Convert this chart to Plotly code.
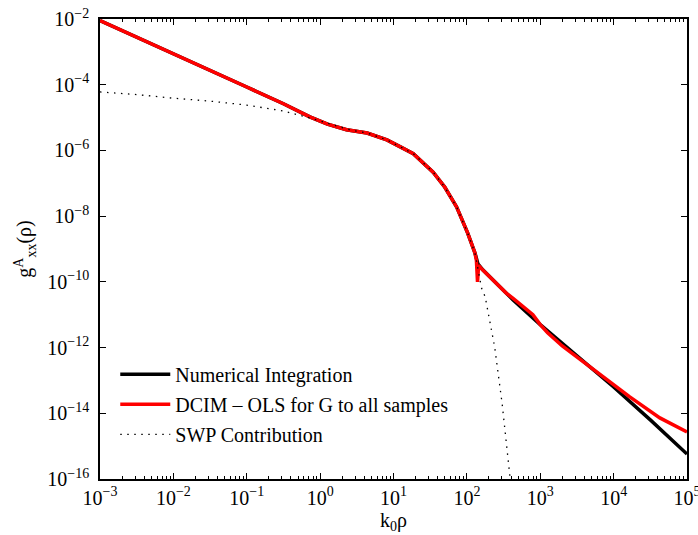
import numpy as np
import plotly.graph_objects as go

# ---- data (log10 readings) ----
num_logx = [-3.0, -2.5, -2.0, -1.5, -1.0, -0.5, -0.14, 0.1, 0.36, 0.64, 0.91, 1.1, 1.27,
            1.54, 1.7, 1.86, 2.01, 2.11, 2.15, 2.22, 2.35, 2.45, 2.54, 2.63, 3.0, 3.5,
            3.77, 4.0, 4.5, 5.0]
num_logy = [-2.05, -2.55, -3.05, -3.57, -4.07, -4.58, -4.98, -5.2, -5.37, -5.47, -5.68,
            -5.9, -6.1, -6.66, -7.12, -7.72, -8.51, -9.12, -9.45, -9.64, -9.94, -10.16,
            -10.35, -10.55, -11.3, -12.25, -12.74, -13.2, -14.2, -15.24]

dcim_logx = [-3.0, -2.5, -2.0, -1.5, -1.0, -0.5, -0.14, 0.1, 0.36, 0.64, 0.91, 1.1, 1.27,
             1.54, 1.7, 1.86, 2.01, 2.11, 2.13, 2.145, 2.15, 2.16, 2.2, 2.35, 2.45, 2.54,
             2.63, 2.72, 2.8, 2.9, 3.0, 3.1, 3.3, 3.5, 3.77, 4.0, 4.22, 4.63, 5.0]
dcim_logy = [-2.05, -2.55, -3.05, -3.57, -4.07, -4.58, -4.98, -5.2, -5.37, -5.47, -5.68,
             -5.9, -6.1, -6.66, -7.12, -7.72, -8.51, -9.12, -9.35, -10.0, -9.9, -9.5,
             -9.6, -9.94, -10.16, -10.35, -10.5, -10.66, -10.8, -11.0, -11.3, -11.55, -11.95,
             -12.28, -12.74, -13.12, -13.5, -14.14, -14.57]

swp_logx = [-3.0, -2.5, -2.0, -1.5, -1.0, -0.5, -0.14, 0.2, 0.41, 0.64, 0.91, 1.1, 1.27,
            1.54, 1.7, 1.86, 2.01, 2.11, 2.15, 2.2, 2.25, 2.27, 2.38, 2.48, 2.56, 2.6]
swp_logy = [-4.22, -4.3, -4.41, -4.5, -4.62, -4.8, -5.01, -5.25, -5.38, -5.47, -5.68,
            -5.9, -6.1, -6.66, -7.12, -7.72, -8.51, -9.12, -9.6, -10.19, -10.46, -10.7,
            -12.0, -13.7, -15.3, -16.2]

x_tick_exp = [-3, -2, -1, 0, 1, 2, 3, 4, 5]
y_tick_exp = [-16, -14, -12, -10, -8, -6, -4, -2]

series_names = ["Numerical Integration", "DCIM \u2013 OLS for G to all samples", "SWP Contribution"]


def p10(v):
    return np.power(10.0, np.array(v, dtype=float))


def lab(e):
    return "10<sup>" + ("\u2212" if e < 0 else "") + str(abs(e)) + "</sup>"


FONT = "Liberation Serif, 'Times New Roman', Times, serif"

fig = go.Figure()
fig.add_trace(go.Scatter(x=p10(num_logx), y=p10(num_logy), mode="lines", name=series_names[0],
                         line=dict(color="black", width=3.5), legendgroup="a"))
fig.add_trace(go.Scatter(x=p10(dcim_logx), y=p10(dcim_logy), mode="lines", name=series_names[1],
                         line=dict(color="#ff0000", width=3.5), legendgroup="b"))
fig.add_trace(go.Scatter(x=p10(swp_logx), y=p10(swp_logy), mode="lines", name=series_names[2],
                         line=dict(color="black", width=1.3, dash="1.5px,5.5px"), legendgroup="c"))

minor_x = [m * 10.0 ** e for e in range(-3, 5) for m in range(2, 10)]

fig.update_layout(
    width=698, height=535,
    margin=dict(l=100, r=11, t=19, b=56, autoexpand=False),
    paper_bgcolor="white", plot_bgcolor="white",
    font=dict(family=FONT, size=20, color="black"),
    showlegend=True,
    legend=dict(x=0.026, y=0.27, xanchor="left", yanchor="top",
                bgcolor="rgba(0,0,0,0)", borderwidth=0,
                font=dict(family=FONT, size=20, color="black"),
                itemwidth=50, tracegroupgap=1),
    xaxis=dict(type="log", range=[-3, 5], automargin=False,
               tickmode="array", tickvals=p10(x_tick_exp).tolist(),
               ticktext=[lab(e) for e in x_tick_exp],
               ticks="inside", ticklen=6, tickwidth=1, tickcolor="black",
               minor=dict(tickmode="array", tickvals=minor_x, ticks="inside", ticklen=3,
                          tickwidth=1, tickcolor="black", showgrid=False),
               showline=True, linecolor="black", linewidth=1.5, mirror="allticks",
               showgrid=False, zeroline=False, ticklabeloverflow="allow",
               tickfont=dict(family=FONT, size=20, color="black"),
               title=dict(text="k<sub>0</sub>\u03c1", font=dict(family=FONT, size=20), standoff=0)),
    yaxis=dict(type="log", range=[-16, -2], automargin=False,
               tickmode="array", tickvals=p10(y_tick_exp).tolist(),
               ticktext=[lab(e) for e in y_tick_exp],
               ticks="inside", ticklen=6, tickwidth=1, tickcolor="black",
               showline=True, linecolor="black", linewidth=1.5, mirror="allticks",
               showgrid=False, zeroline=False, ticklabelstandoff=5, ticklabeloverflow="allow",
               tickfont=dict(family=FONT, size=20, color="black"),
               title=dict(text="g<sup>A</sup><sub>xx</sub>(\u03c1)", font=dict(family=FONT, size=20), standoff=10)),
)

fig.write_html("out.html")
